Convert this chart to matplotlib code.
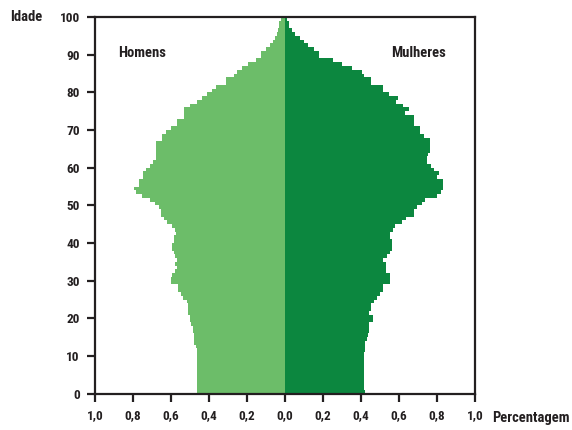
import matplotlib
matplotlib.use("Agg")
import matplotlib.pyplot as plt
from matplotlib.ticker import FixedLocator
from matplotlib import font_manager as fm

cands = ['Roboto Condensed', 'Open Sans Condensed', 'DejaVu Sans Condensed',
         'Liberation Sans Narrow', 'Noto Sans Condensed']
installed = {f.name for f in fm.fontManager.ttflist}
fams = [c for c in cands if c in installed] + ['DejaVu Sans']
plt.rcParams['font.family'] = fams
plt.rcParams['font.stretch'] = 'condensed'

ages = list(range(100))

homens = [
    0.465, 0.465, 0.465, 0.465, 0.465, 0.465, 0.465, 0.465, 0.465, 0.465,   # 0-9
    0.465, 0.465, 0.470, 0.477, 0.477, 0.477, 0.483, 0.483, 0.493, 0.500,   # 10-19
    0.500, 0.510, 0.510, 0.510, 0.516, 0.537, 0.547, 0.561, 0.565, 0.600,   # 20-29
    0.600, 0.593, 0.579, 0.568, 0.579, 0.568, 0.579, 0.584, 0.595, 0.595,   # 30-39
    0.584, 0.584, 0.575, 0.579, 0.595, 0.621, 0.637, 0.653, 0.653, 0.663,   # 40-49
    0.684, 0.711, 0.753, 0.784, 0.795, 0.768, 0.768, 0.747, 0.747, 0.732,   # 50-59
    0.711, 0.695, 0.679, 0.679, 0.679, 0.679, 0.679, 0.647, 0.647, 0.626,   # 60-69
    0.600, 0.568, 0.568, 0.532, 0.532, 0.532, 0.500, 0.463, 0.437, 0.411,   # 70-79
    0.384, 0.363, 0.311, 0.311, 0.268, 0.253, 0.226, 0.195, 0.153, 0.126,   # 80-89
    0.126, 0.100, 0.079, 0.063, 0.053, 0.042, 0.037, 0.032, 0.032, 0.021,   # 90-99
]

mulheres = [
    0.421, 0.416, 0.416, 0.416, 0.416, 0.416, 0.416, 0.416, 0.416, 0.416,   # 0-9
    0.416, 0.421, 0.421, 0.421, 0.432, 0.437, 0.442, 0.442, 0.442, 0.463,   # 10-19
    0.463, 0.442, 0.453, 0.453, 0.468, 0.484, 0.500, 0.516, 0.516, 0.553,   # 20-29
    0.553, 0.553, 0.532, 0.532, 0.532, 0.516, 0.537, 0.553, 0.563, 0.563,   # 30-39
    0.563, 0.553, 0.553, 0.568, 0.579, 0.616, 0.637, 0.679, 0.679, 0.695,   # 40-49
    0.721, 0.737, 0.800, 0.821, 0.832, 0.832, 0.832, 0.800, 0.811, 0.784,   # 50-59
    0.768, 0.747, 0.747, 0.753, 0.763, 0.763, 0.763, 0.763, 0.732, 0.711,   # 60-69
    0.711, 0.679, 0.679, 0.679, 0.632, 0.653, 0.621, 0.584, 0.595, 0.547,   # 70-79
    0.516, 0.516, 0.453, 0.453, 0.416, 0.405, 0.353, 0.300, 0.253, 0.179,   # 80-89
    0.179, 0.153, 0.121, 0.100, 0.079, 0.053, 0.037, 0.021, 0.021, 0.011,   # 90-99
]

y_ticks = [0, 10, 20, 30, 40, 50, 60, 70, 80, 90, 100]
x_ticks = [-1.0, -0.8, -0.6, -0.4, -0.2, 0.0, 0.2, 0.4, 0.6, 0.8, 1.0]
x_labels = ["1,0", "0,8", "0,6", "0,4", "0,2", "0,0", "0,2", "0,4", "0,6", "0,8", "1,0"]

c_men = "#6cbd69"
c_women = "#0c873f"
ink = "#231f20"

W, H = 572, 430
fig = plt.figure(figsize=(W / 100, H / 100), dpi=100)
ax = fig.add_axes([95 / W, 1 - 393.7 / H, 380 / W, 376.7 / H])

ax.barh(ages, [-v for v in homens], height=1.0, align='edge', color=c_men, linewidth=0)
ax.barh(ages, mulheres, height=1.0, align='edge', color=c_women, linewidth=0)

ax.set_xlim(-1.0, 1.0)
ax.set_ylim(0, 100)
ax.xaxis.set_major_locator(FixedLocator(x_ticks))
ax.set_xticklabels(x_labels)
ax.yaxis.set_major_locator(FixedLocator(y_ticks))
ax.set_yticklabels([str(t) for t in y_ticks])

for s in ax.spines.values():
    s.set_color(ink)
    s.set_linewidth(1.6)

ax.tick_params(axis='both', direction='out', length=5.5, width=1.6, color=ink,
               labelcolor=ink, labelsize=9.5)
ax.tick_params(axis='x', pad=5.5)
ax.tick_params(axis='y', pad=5.5)
for lab in ax.get_xticklabels() + ax.get_yticklabels():
    lab.set_fontweight('bold')
    lab.set_fontstretch('condensed')

txt_kw = dict(va='center', fontsize=10.5, color=ink, fontweight='bold', fontstretch='condensed')
fig.text(118 / W, 1 - 53 / H, "Homens", ha='left', **txt_kw)
fig.text(446 / W, 1 - 53 / H, "Mulheres", ha='right', **txt_kw)
fig.text(10 / W, 1 - 17 / H, "Idade", ha='left', **txt_kw)
fig.text(570 / W, 1 - 418 / H, "Percentagem", ha='right', **txt_kw)

fig.savefig("out.png", dpi=100)
